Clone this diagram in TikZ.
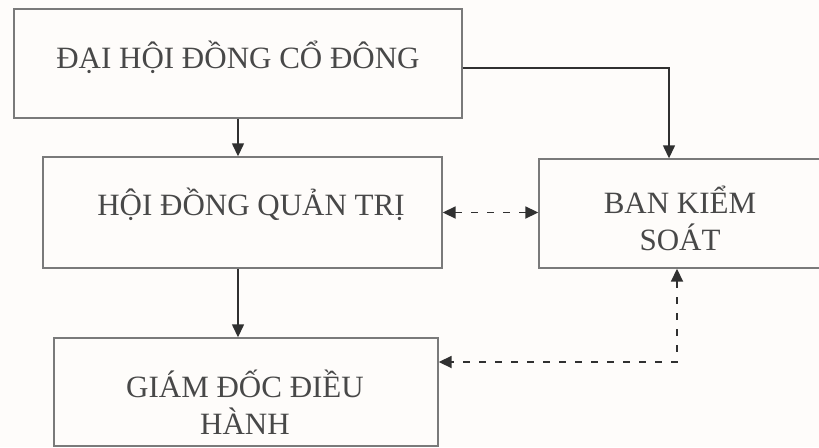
\documentclass[tikz,border=0pt]{standalone}
\usepackage{fontspec}
\setmainfont{Liberation Serif}
\usetikzlibrary{arrows.meta}
\definecolor{boxc}{HTML}{7A7A7A}
\definecolor{txtc}{HTML}{484848}
\definecolor{arrc}{HTML}{303030}
\definecolor{bgc}{HTML}{FEFCFA}
\begin{document}
\begin{tikzpicture}[x=1pt,y=-1pt,
  box/.style={draw=boxc, line width=1.4pt, inner sep=0pt, rectangle},
  lbl/.style={text=txtc, inner sep=0pt, align=center, font=\fontsize{31}{37}\selectfont},
  conn/.style={draw=arrc, line width=1.4pt, -{Triangle[length=13pt,width=12pt]}},
  dconn/.style={draw=arrc, line width=1.8pt, dash pattern=on 7pt off 9pt,
     {Triangle[length=13pt,width=12pt]}-{Triangle[length=13pt,width=12pt]}}
]
\fill[bgc] (0,0) rectangle (819,447);
\useasboundingbox (0,0) rectangle (819,447);

\node[box, minimum width=448pt, minimum height=109pt] (box1) at (238,63.5) {};
\node[box, minimum width=399pt, minimum height=111pt] (box2) at (242.5,212.5) {};
\node[box, minimum width=384pt, minimum height=108pt] (box3) at (246,392) {};
\node[box, minimum width=283pt, minimum height=109pt] (box4) at (680.5,213.5) {};

\node[lbl, anchor=base] (t1) at (238,68.3) {ĐẠI HỘI ĐỒNG CỔ ĐÔNG};
\node[lbl, anchor=base] (t2) at (251,215) {HỘI ĐỒNG QUẢN TRỊ};
\node[lbl, anchor=base] (t3) at (245,434) {GIÁM ĐỐC ĐIỀU\\HÀNH};
\node[lbl, anchor=base] (t4) at (680,250) {BAN KIỂM\\SOÁT};

\coordinate (k) at (669,68);
\coordinate (c) at (677,362);

\draw[conn] (box1.south) -- (box1.south |- box2.north);
\draw[conn] (box1.south |- box2.south) -- (box1.south |- box3.north);
\draw[conn] (box1.east |- k) -| (box4.north -| k);
\draw[dconn] (box2.east) -- (box2.east -| box4.west);
\draw[dconn] (box4.south -| c) -- (c) -- (c -| box3.east);
\end{tikzpicture}
\end{document}
